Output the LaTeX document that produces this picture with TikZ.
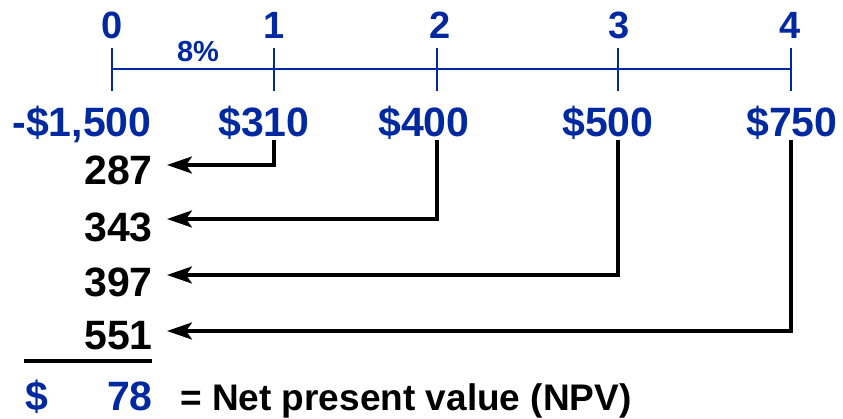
\documentclass[tikz,border=0pt]{standalone}
\usepackage{fontspec}
\setmainfont{Liberation Sans}
\usetikzlibrary{arrows.meta}
\definecolor{tlblue}{RGB}{0,40,160}
\begin{document}
\begin{tikzpicture}[x=1pt,y=-1pt,
  axis/.style={tlblue,line width=2.5pt},
  period/.style={tlblue,font=\fontsize{38}{38}\selectfont\bfseries,inner sep=0pt,anchor=base},
  rate/.style={tlblue,font=\fontsize{29}{29}\selectfont\bfseries,inner sep=0pt,anchor=base},
  amount/.style={tlblue,font=\fontsize{41}{41}\selectfont\bfseries,inner sep=0pt,anchor=base},
  pv/.style={black,font=\fontsize{41}{41}\selectfont\bfseries,inner sep=0pt,anchor=base east},
  disc/.style={black,line width=3.2pt,-{Stealth[length=25pt,width=17pt,inset=6pt]}},
  sumrule/.style={black,line width=3.2pt},
  note/.style={black,font=\fontsize{37}{37}\selectfont\bfseries,inner sep=0pt,anchor=base west}]
\useasboundingbox (0,0) rectangle (843,419);
% time line
\coordinate (t0) at (112,69);
\coordinate (t1) at (274,69);
\coordinate (t2) at (437,69);
\coordinate (t3) at (618,69);
\coordinate (t4) at (791,69);
\draw[axis] (t0) -- (t4);
\foreach \t in {t0,t1,t2,t3,t4}
  \draw[axis] ([yshift=21pt]\t) -- ([yshift=-22pt]\t);
% period labels
\node[period] (n0) at (112,39) {0};
\node[period] (n1) at (274,39) {1};
\node[period] (n2) at (440,39) {2};
\node[period] (n3) at (619,39) {3};
\node[period] (n4) at (790,39) {4};
\node[rate] (r) at (198,62) {8\%};
% cash flows
\node[amount] (a0) at (82,137) {-\$1,500};
\node[amount] (a1) at (264,137) {\$310};
\node[amount] (a2) at (424,137) {\$400};
\node[amount] (a3) at (608,137) {\$500};
\node[amount] (a4) at (792,137) {\$750};
% present values
\node[pv] (p1) at (153,185) {287};
\node[pv] (p2) at (153,242) {343};
\node[pv] (p3) at (153,297) {397};
\node[pv] (p4) at (153,349) {551};
% discounting arrows
\draw[disc] (a1.south -| t1) |- ([xshift=14pt,yshift=20pt]p1.base east);
\draw[disc] (a2.south -| t2) |- ([xshift=14pt,yshift=23pt]p2.base east);
\draw[disc] (a3.south -| t3) |- ([xshift=14pt,yshift=22pt]p3.base east);
\draw[disc] (a4.south -| t4) |- ([xshift=14pt,yshift=18pt]p4.base east);
% sum
\draw[sumrule] (24,361) -- (152,361);
\node[amount,anchor=base west] (dol) at (25,410) {\$};
\node[amount,anchor=base east] (npv) at (153,410) {78};
\node[note] (lbl) at (180,410) {= Net present value (NPV)};
\end{tikzpicture}
\end{document}
